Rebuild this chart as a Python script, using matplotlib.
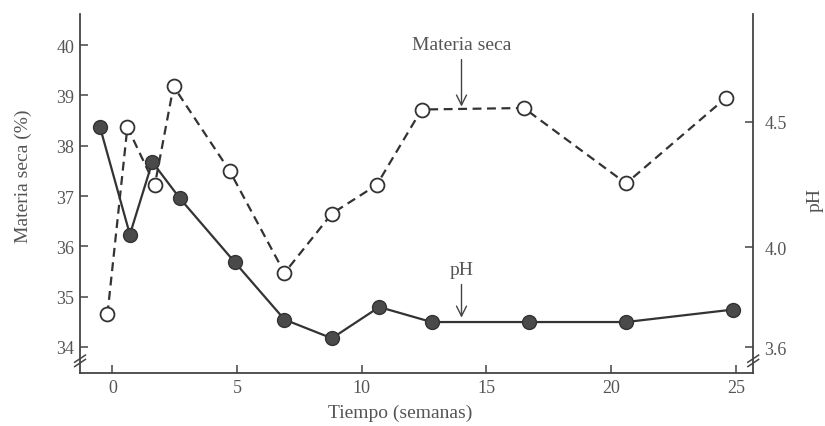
import matplotlib.pyplot as plt

plt.rcParams['font.family'] = ['Liberation Serif', 'DejaVu Serif']

# datos
t_ms = [-0.2, 0.6, 1.7, 2.45, 4.7, 6.9, 8.8, 10.6, 12.4, 16.5, 20.6, 24.6]
materia_seca = [34.65, 38.37, 37.22, 39.18, 37.5, 35.47, 36.65, 37.22, 38.72, 38.75, 37.25, 38.95]

t_ph = [-0.5, 0.7, 1.6, 2.7, 4.9, 6.9, 8.8, 10.7, 12.8, 16.7, 20.6, 24.9]
ph = [4.48, 4.05, 4.34, 4.195, 3.94, 3.71, 3.635, 3.76, 3.70, 3.70, 3.70, 3.75]

x_ticks = [0, 5, 10, 15, 20, 25]
ms_ticks = [34, 35, 36, 37, 38, 39, 40]
ph_ticks = [3.6, 4.0, 4.5]

grey = '#555555'
line_col = '#333333'

fig = plt.figure(figsize=(8.25, 4.27), dpi=100)
ax = fig.add_axes([0.097, 0.124, 0.816, 0.841])
ax2 = ax.twinx()

ax.plot(t_ms, materia_seca, color=line_col, lw=1.6, ls=(0, (4, 2.5)),
        marker='o', ms=10, mfc='white', mec=line_col, mew=1.3, zorder=3)
ax2.plot(t_ph, ph, color=line_col, lw=1.6, ls='-',
         marker='o', ms=10, mfc='#4a4a4a', mec='#333333', mew=1.0, zorder=3)

ax.set_xlim(-1.3, 25.7)
ax.set_ylim(33.48, 40.62)
ax2.set_ylim(3.496, 4.932)

ax.set_xticks(x_ticks)
ax.set_yticks(ms_ticks)
ax2.set_yticks(ph_ticks)
ax2.set_yticklabels(['3.6', '4.0', '4.5'])

for a in (ax, ax2):
    a.spines['top'].set_visible(False)
    for s in a.spines.values():
        s.set_color('#444444')
        s.set_linewidth(1.3)
ax.spines['right'].set_visible(False)
ax2.spines['left'].set_visible(False)
ax2.spines['bottom'].set_visible(False)

ax.tick_params(axis='both', direction='in', length=6, width=1.1, colors='#444444',
               labelcolor=grey, labelsize=13, pad=4)
ax2.tick_params(axis='y', direction='in', length=6, width=1.1, colors='#444444',
                labelcolor=grey, labelsize=13, pad=8)

ax.set_xlabel('Tiempo (semanas)', fontsize=14, color=grey)
ax.xaxis.set_label_coords(0.475, -0.085)
ax.set_ylabel('Materia seca (%)', fontsize=14, color=grey)
ax.yaxis.set_label_coords(-0.071, 0.55)
ax2.set_ylabel('pH', fontsize=14, color=grey, rotation=90)
ax2.yaxis.set_label_coords(1.08, 0.485)

# anotaciones con flecha
ax.annotate('Materia seca', xy=(14.0, 38.75), xytext=(14.0, 40.02),
            ha='center', va='center', fontsize=14, color=grey,
            arrowprops=dict(arrowstyle='->', color='#444444', lw=1.0,
                            mutation_scale=18, shrinkA=3, shrinkB=1))
ax2.annotate('pH', xy=(14.0, 3.712), xytext=(14.0, 3.912),
             ha='center', va='center', fontsize=14, color=grey,
             arrowprops=dict(arrowstyle='->', color='#444444', lw=1.0,
                             mutation_scale=18, shrinkA=3, shrinkB=1))

# marcas de corte en los ejes
for xf in (0.0, 1.0):
    for dy in (-0.012, 0.0):
        ax.plot([xf - 0.008, xf + 0.008], [0.03 + dy, 0.05 + dy], transform=ax.transAxes,
                color='#444444', lw=1.1, clip_on=False)

plt.savefig('out.png', dpi=100)
